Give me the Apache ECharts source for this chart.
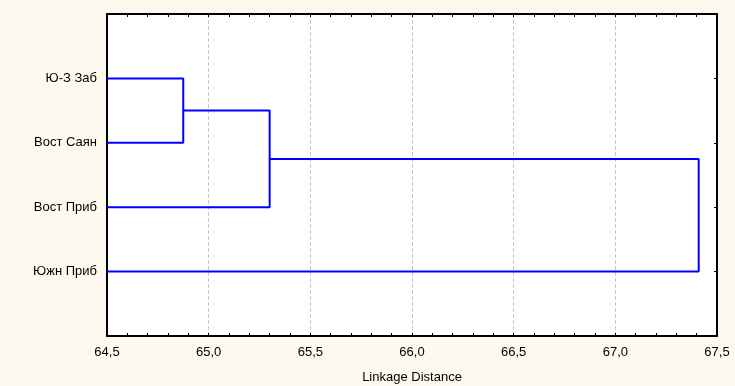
<!DOCTYPE html>
<html>
<head>
<meta charset="utf-8">
<script src="https://cdn.jsdelivr.net/npm/echarts@6/dist/echarts.min.js"></script>
<style>
html,body{margin:0;padding:0;background:#fdf9ee;}
#chart{width:735px;height:386px;}
</style>
</head>
<body>
<div id="chart"></div>
<script>
// Leaves, top to bottom
var leaves = ['Ю-З Заб', 'Вост Саян', 'Вост Приб', 'Южн Приб'];
// Merge steps: children are leaf indices (0..3) or cluster ids (4 + merge index)
var mergeLeft   = [0, 4, 5];
var mergeRight  = [1, 2, 3];
var mergeHeight = [64.875, 65.30, 67.41];
var xTicks = { min: 64.5, max: 67.5, step: 0.5 };
var xTitle = 'Linkage Distance';

var nLeaf = leaves.length;
var nodeY = [], nodeH = [];
for (var i = 0; i < nLeaf; i++) { nodeY.push(i + 1); nodeH.push(xTicks.min); }
var series = [];
for (var m = 0; m < mergeHeight.length; m++) {
  var a = mergeLeft[m], b = mergeRight[m], h = mergeHeight[m];
  series.push({
    type: 'line', symbol: 'none', silent: true, animation: false,
    lineStyle: { color: '#0000ff', width: 2 },
    data: [[nodeH[a], nodeY[a]], [h, nodeY[a]], [h, nodeY[b]], [nodeH[b], nodeY[b]]]
  });
  nodeY.push((nodeY[a] + nodeY[b]) / 2);
  nodeH.push(h);
}

var font = 'Liberation Sans, Arial, sans-serif';
var chart = echarts.init(document.getElementById('chart'));
var xCommon = {
  type: 'value', min: xTicks.min, max: xTicks.max, interval: xTicks.step,
  axisLine: { show: true, onZero: false, lineStyle: { color: '#000', width: 2 } },
  axisTick: { show: true, inside: true, length: 3, lineStyle: { color: '#000' } },
  minorTick: { show: true, splitNumber: 5, length: 3, lineStyle: { color: '#000' } }
};
var yCommon = {
  type: 'value', min: 0, max: nLeaf + 1, interval: 1, inverse: true,
  axisLine: { show: true, onZero: false, lineStyle: { color: '#000', width: 2 } },
  splitLine: { show: false }
};
chart.setOption({
  backgroundColor: '#fdf9ee',
  animation: false,
  grid: { left: 107, right: 18, top: 14, bottom: 50, show: true, backgroundColor: '#ffffff', borderWidth: 0,
          containLabel: false, outerBoundsMode: 'none' },
  xAxis: [
    Object.assign({}, xCommon, {
      position: 'bottom',
      name: xTitle, nameLocation: 'middle', nameGap: 35,
      nameTextStyle: { color: '#000', fontFamily: font, fontSize: 13 },
      axisLabel: { color: '#000', fontFamily: font, fontSize: 13, margin: 10,
        formatter: function (v) { return v.toFixed(1).replace('.', ','); } },
      splitLine: { show: true, lineStyle: { color: '#c8c8c8', type: 'dashed', width: 1 } }
    }),
    Object.assign({}, xCommon, {
      position: 'top', axisLabel: { show: false }, splitLine: { show: false }
    })
  ],
  yAxis: [
    Object.assign({}, yCommon, {
      position: 'left',
      axisTick: { show: false },
      axisLabel: { color: '#000', fontFamily: font, fontSize: 13, margin: 10,
        formatter: function (v) { return leaves[v - 1] || ''; } }
    }),
    Object.assign({}, yCommon, {
      position: 'right', axisLabel: { show: false },
      axisTick: { show: true, inside: true, length: 3, lineStyle: { color: '#000' } }
    })
  ],
  series: series
});
</script>
</body>
</html>
